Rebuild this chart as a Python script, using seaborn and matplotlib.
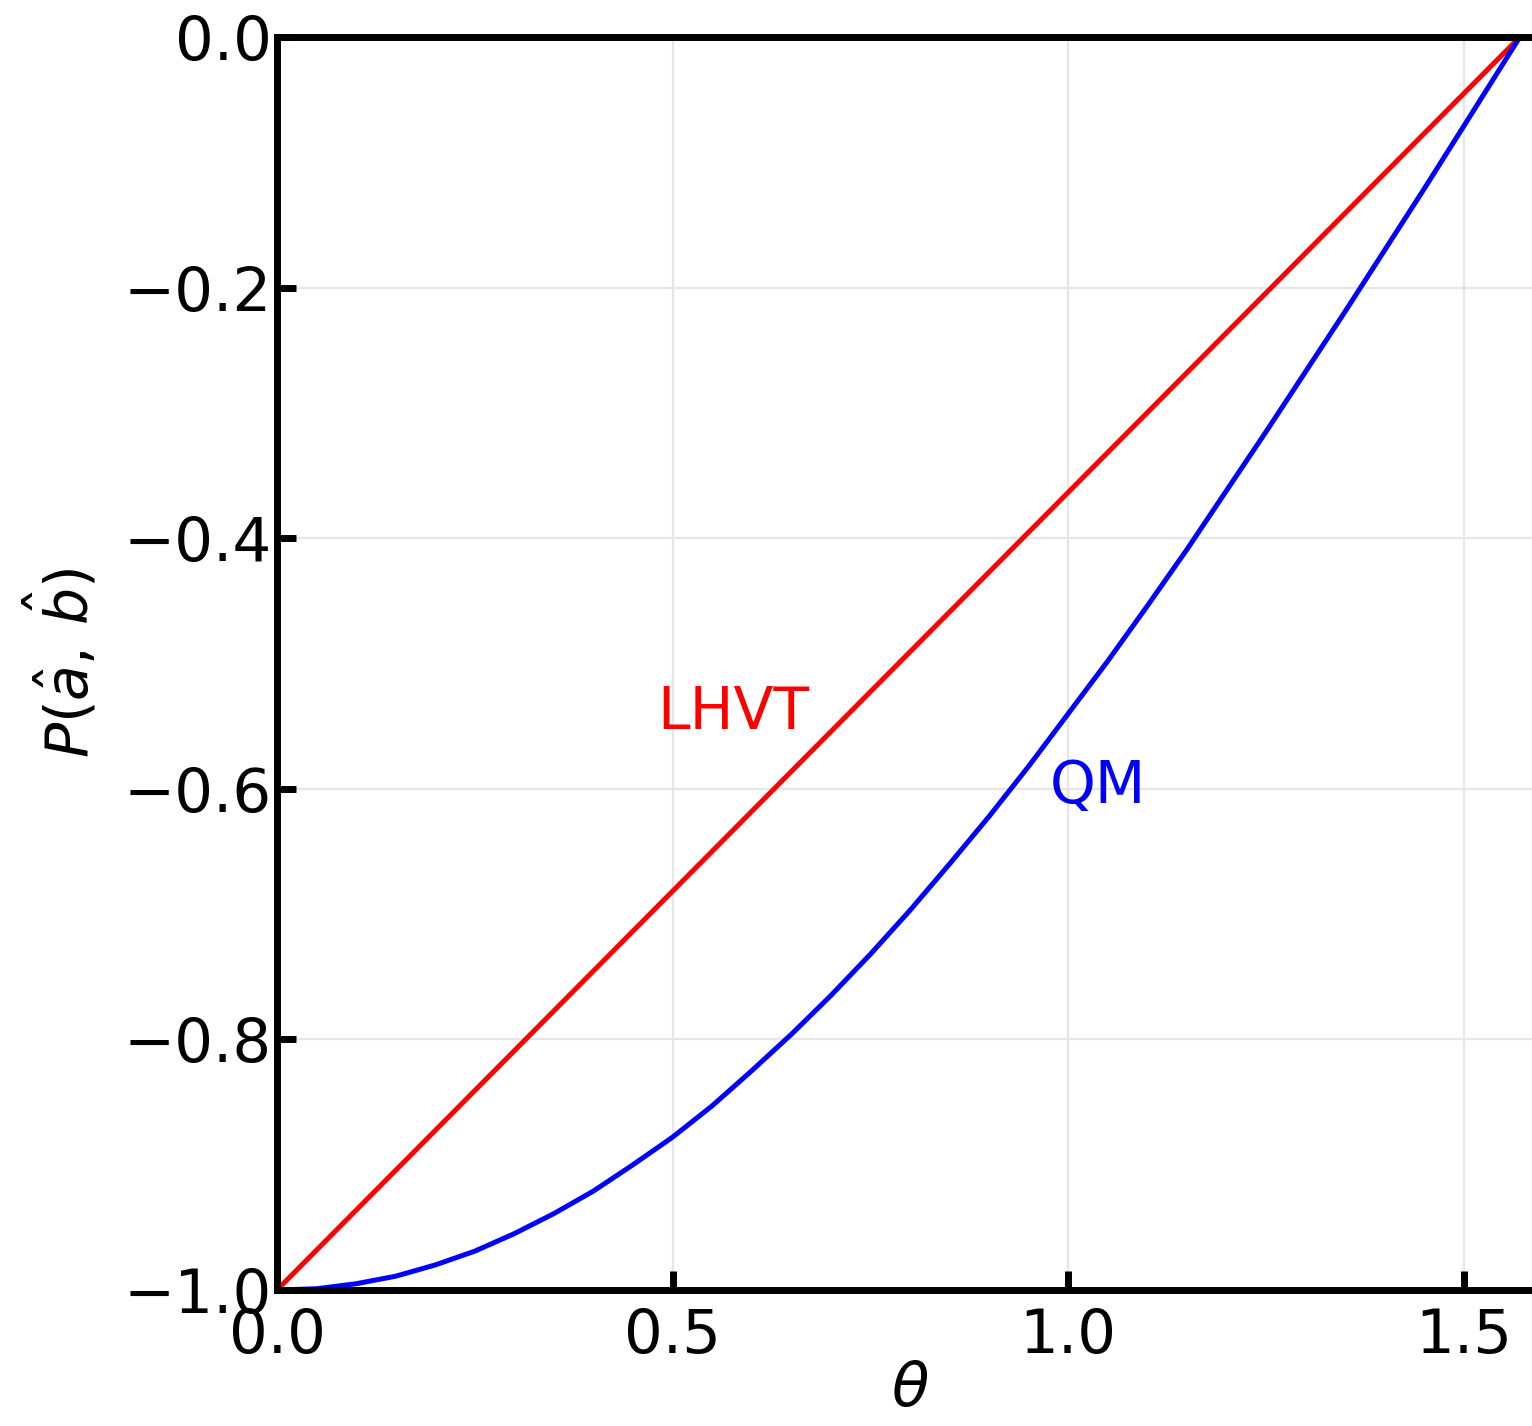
import matplotlib
matplotlib.use("Agg")
import matplotlib.pyplot as plt
import seaborn as sns

sns.set_theme(style="white")
plt.rcParams['font.family'] = ['DejaVu Sans']

theta = [0.0, 0.05, 0.1, 0.15, 0.2, 0.25, 0.3, 0.35, 0.4, 0.45, 0.5,
         0.55, 0.6, 0.65, 0.7, 0.75, 0.8, 0.85, 0.9, 0.95, 1.0,
         1.05, 1.1, 1.15, 1.2, 1.25, 1.3, 1.35, 1.4, 1.45, 1.5, 1.5708]
qm = [-1.0, -0.999, -0.995, -0.989, -0.980, -0.969, -0.955, -0.939, -0.921,
      -0.900, -0.878, -0.853, -0.825, -0.796, -0.765, -0.732, -0.697, -0.660,
      -0.622, -0.582, -0.540, -0.498, -0.454, -0.409, -0.362, -0.315, -0.267,
      -0.219, -0.170, -0.121, -0.071, 0.0]
lhvt_theta = [0.0, 1.5708]
lhvt = [-1.0, 0.0]

xticks = [0.0, 0.5, 1.0, 1.5]
yticks = [-1.0, -0.8, -0.6, -0.4, -0.2, 0.0]

fig = plt.figure(figsize=(1532/200, 1426/200), dpi=200)
ax = fig.add_axes([277/1532, 136/1426, 1266/1532, 1253/1426])

sns.lineplot(x=lhvt_theta, y=lhvt, ax=ax, color="red", lw=1.8)
sns.lineplot(x=theta, y=qm, ax=ax, color="blue", lw=1.8)

ax.set_xlim(0, 1.6)
ax.set_ylim(-1.0, 0.0)
ax.set_xticks(xticks)
ax.set_yticks(yticks)
ax.set_xticklabels([f"{t:.1f}" for t in xticks])
ax.set_yticklabels([f"{t:.1f}".replace("-", "\u2212") for t in yticks])
ax.grid(True, color="#e6e6e6", lw=0.8)
for s in ax.spines.values():
    s.set_linewidth(2.5)
    s.set_color("black")
ax.tick_params(direction="in", length=7, width=2.5, labelsize=22,
               colors="black", left=True, bottom=True)
ax.tick_params(axis="x", pad=6)
ax.tick_params(axis="y", pad=2)
ax.set_xlabel(r"$\theta$", fontsize=22, labelpad=-2, color="black")
ax.set_ylabel(r"$P(\hat{a},\,\hat{b})$", fontsize=21, labelpad=8, color="black")

ax.text(0.48, -0.552, "LHVT", color="red", fontsize=21)
ax.text(0.977, -0.611, "QM", color="blue", fontsize=21)

fig.savefig("out.png", dpi=200)
